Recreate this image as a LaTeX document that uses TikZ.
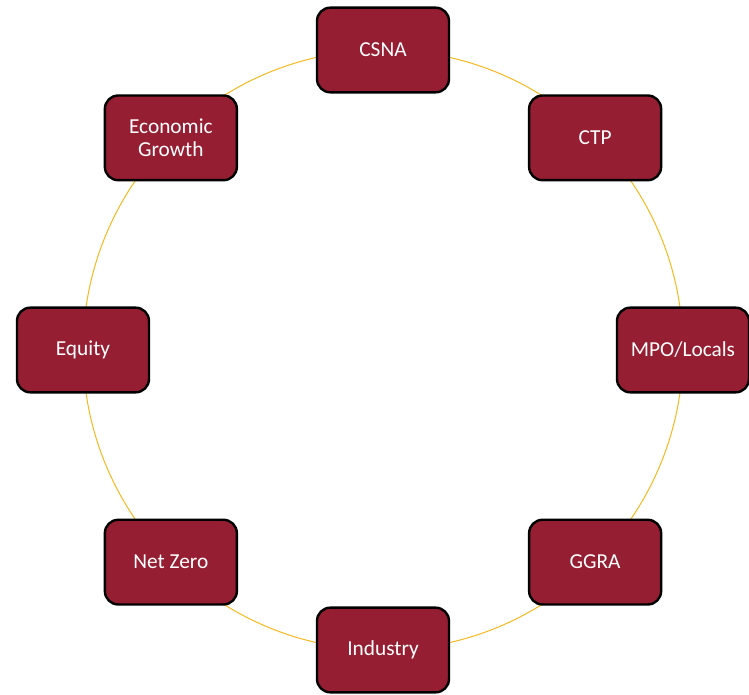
\documentclass[tikz,border=0pt]{standalone}
\usepackage{fontspec}
\setmainfont{Carlito}
\usepackage{tikz}
\usetikzlibrary{calc}
\definecolor{boxred}{RGB}{150,30,50}
\definecolor{ringgold}{RGB}{245,184,30}
\tikzset{
	topic/.style={draw=black,line width=1.8pt,fill=boxred,rounded corners=10pt,
		minimum width=99pt,minimum height=63.5pt,text=white,align=center,
		font=\fontsize{16}{17}\selectfont},
	ring/.style={draw=ringgold,line width=0.75pt}
}

\begin{document}
\begin{tikzpicture}
\useasboundingbox (-287.25pt,-258.75pt) rectangle (274.5pt,262.5pt);
\coordinate (hub) at (0,0);
%the ring behind the boxes
\draw[ring] (hub) circle (225pt);

%put the boxes round the ring
\foreach \ang/\nm/\txt in {90/csna/CSNA,45/ctp/CTP,0/mpo/{MPO/Locals},-45/ggra/GGRA,
	-90/industry/Industry,-135/netzero/Net Zero,180/equity/Equity,135/econ/{Economic\\Growth}}{
	\node[topic] (\nm) at ($(hub)+(\ang:225pt)$) {\txt};
}
\end{tikzpicture}
\end{document}
